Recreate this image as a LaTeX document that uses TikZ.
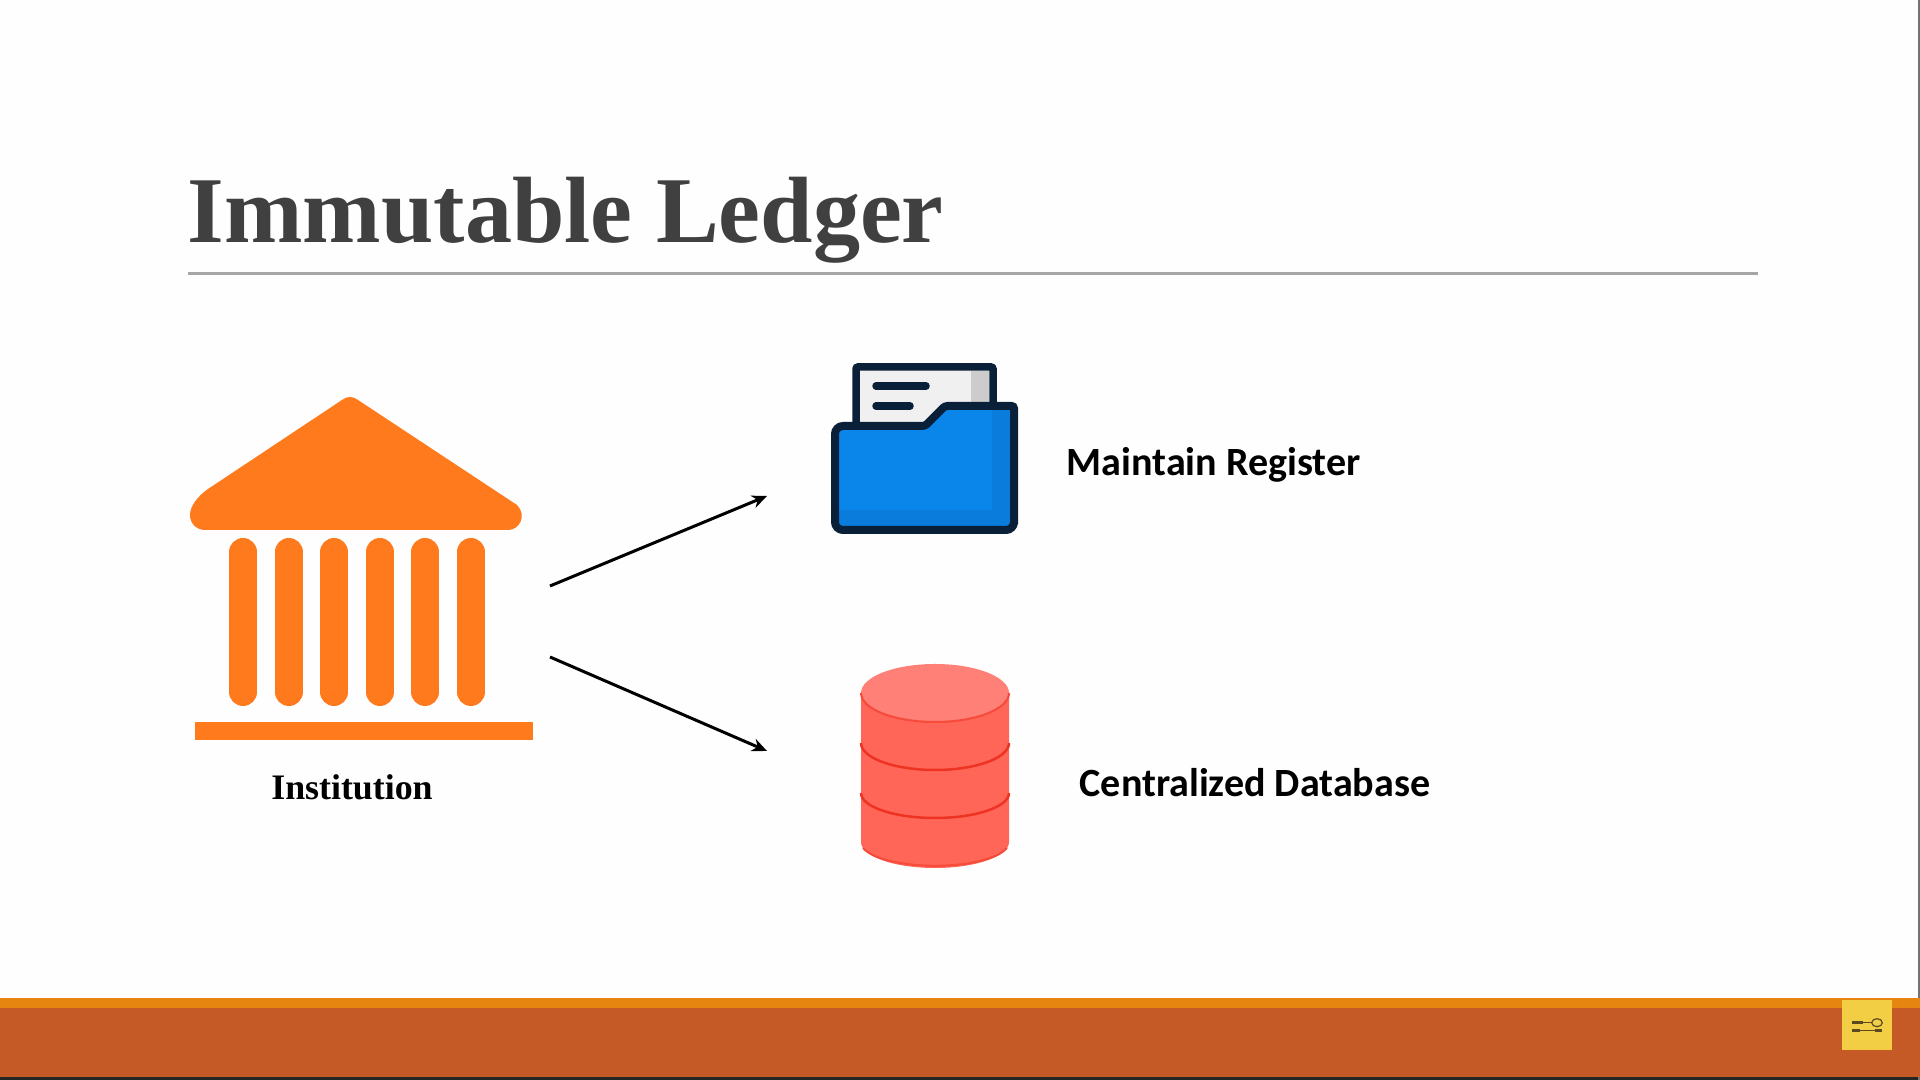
\documentclass[tikz,border=0pt]{standalone}
\usepackage{fontspec}
\setmainfont{Liberation Serif}
\newfontfamily\labelfont{Carlito}
\usepackage{tikz}
\usetikzlibrary{arrows.meta}

\definecolor{slidetext}{HTML}{404040}
\definecolor{pillar}{HTML}{FF7A1C}
\definecolor{navy}{HTML}{0A2038}
\definecolor{folderblue}{HTML}{0A85E9}
\definecolor{folderdark}{HTML}{0A7CDC}
\definecolor{dbbody}{HTML}{FF6658}
\definecolor{dbtop}{HTML}{FF8076}
\definecolor{dbline}{HTML}{EE3322}
\definecolor{footerbrown}{HTML}{C55A27}
\definecolor{footerorange}{HTML}{E68510}
\definecolor{badge}{HTML}{F2CE45}
\definecolor{badgeicon}{HTML}{5A4A20}

\tikzset{
  column/.style={line width=0.28cm, line cap=round, draw=pillar},
  flowarrow/.style={line width=0.03cm, -{Stealth[length=0.15cm,width=0.13cm]}},
  iconlabel/.style={font=\labelfont\bfseries\fontsize{11.4}{13}\selectfont, text=black, inner sep=0pt, anchor=base west},
}

\begin{document}
\begin{tikzpicture}
\useasboundingbox (0,0) rectangle (19.2,10.8);
\fill[white!99.5!black] (0,0) rectangle (19.2,10.8);

% footer
\fill[black!85] (0,0) rectangle (19.2,0.03);
\fill[black!55] (19.18,0) rectangle (19.2,10.8);
\fill[footerbrown] (0,0.03) rectangle (19.2,0.72);
\fill[footerorange] (0,0.72) rectangle (19.2,0.82);
\fill[badge] (18.42,0.30) rectangle (18.92,0.80);
\draw[line width=0.035cm, badgeicon] (18.52,0.573) -- (18.63,0.573);
\draw[line width=0.015cm, badgeicon] (18.63,0.573) -- (18.72,0.573);
\draw[line width=0.012cm, badgeicon] (18.77,0.573) ellipse (0.053 and 0.04);
\draw[line width=0.035cm, badgeicon] (18.52,0.493) -- (18.60,0.493);
\draw[line width=0.015cm, badgeicon] (18.60,0.493) -- (18.75,0.493);
\draw[line width=0.035cm, badgeicon] (18.75,0.493) -- (18.82,0.493);

% heading
\node[inner sep=0pt, anchor=base west, text=slidetext, font=\bfseries\fontsize{26.8}{30}\selectfont] (title) at (1.87,8.37) {Immutable Ledger};
\draw[line width=0.022cm, black!35] (1.88,8.065) -- (17.58,8.065);

% institution
\fill[pillar] (2.05,5.50) -- (5.08,5.50) .. controls (5.20,5.50) and (5.27,5.65) .. (5.17,5.75) -- (3.58,6.80) .. controls (3.53,6.84) and (3.47,6.84) .. (3.42,6.80) -- (2.08,5.91) .. controls (1.98,5.84) and (1.90,5.74) .. (1.90,5.65) .. controls (1.90,5.56) and (1.97,5.50) .. (2.05,5.50) -- cycle;
\foreach \x in {2.432,2.887,3.342,3.797,4.252,4.707}
  \draw[column] (\x,5.28) -- (\x,3.88);
\fill[pillar] (1.95,3.58) rectangle (5.33,3.40);
\node[inner sep=0pt, anchor=base, font=\bfseries\fontsize{10.2}{13}\selectfont] (institution) at (3.52,2.80) {Institution};

% folder
\draw[navy, line width=0.075cm, fill=white!94!black, rounded corners=0.02cm] (8.56,6.2) -- (8.56,7.13) -- (9.93,7.13) -- (9.93,6.2) -- cycle;
\fill[black!20] (9.71,6.75) rectangle (9.89,7.09);
\draw[navy, line width=0.075cm, line cap=round] (8.76,6.94) -- (9.26,6.94);
\draw[navy, line width=0.075cm, line cap=round] (8.76,6.74) -- (9.10,6.74);
\fill[folderblue] (8.35,6.54) -- (9.25,6.54) -- (9.45,6.74) -- (10.14,6.74) -- (10.14,5.50) -- (8.35,5.50) -- cycle;
\fill[folderdark] (9.92,6.70) -- (10.10,6.70) -- (10.10,5.54) -- (8.39,5.54) -- (8.39,5.70) -- (9.92,5.70) -- cycle;
\draw[navy, line width=0.08cm, rounded corners=0.025cm] (8.35,6.54) -- (9.25,6.54) -- (9.45,6.74) -- (10.14,6.74) -- (10.14,5.58) [rounded corners=0.08cm] -- (10.14,5.50) -- (8.35,5.50) -- cycle;
\node[iconlabel] (register) at (10.66,6.04) {Maintain Register};

% database
\fill[dbbody] (8.61,3.87) -- (8.61,2.38) arc[start angle=180, end angle=360, x radius=0.74, y radius=0.26] -- (10.09,3.87) -- cycle;
\fill[dbtop] (9.35,3.87) ellipse (0.74 and 0.29);
\draw[dbline!55!dbbody, line width=0.02cm] (10.09,3.87) arc[start angle=0, end angle=-180, x radius=0.74, y radius=0.29];
\draw[dbline, line width=0.025cm] (8.61,3.37) arc[start angle=180, end angle=360, x radius=0.74, y radius=0.27];
\draw[dbline, line width=0.025cm] (8.61,2.87) arc[start angle=180, end angle=360, x radius=0.74, y radius=0.25];
\draw[dbline!55!dbbody, line width=0.02cm] (8.63,2.32) arc[start angle=195, end angle=345, x radius=0.745, y radius=0.24];
\node[iconlabel] (database) at (10.79,2.83) {Centralized Database};

% arrows
\coordinate (upstart) at (5.50,4.94);
\coordinate (upend) at (7.67,5.84);
\coordinate (downstart) at (5.50,4.23);
\coordinate (downend) at (7.67,3.29);
\draw[flowarrow] (upstart) -- (upend);
\draw[flowarrow] (downstart) -- (downend);
\end{tikzpicture}
\end{document}
